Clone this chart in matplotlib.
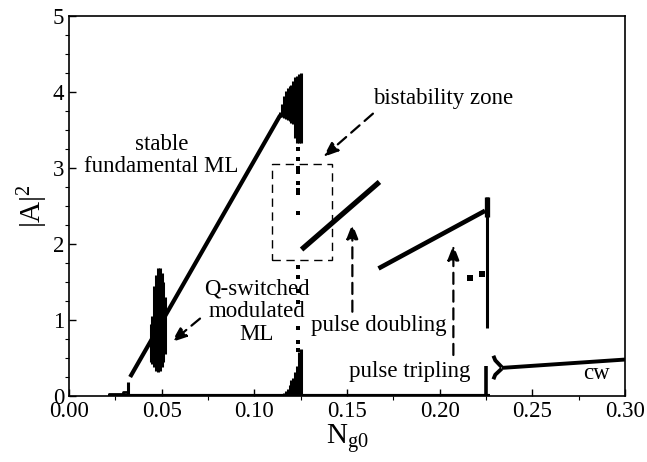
import matplotlib
matplotlib.use("Agg")
import matplotlib.pyplot as plt
from matplotlib.patches import Rectangle

plt.rcParams['font.family'] = ['Liberation Serif', 'DejaVu Serif']
plt.rcParams['mathtext.fontset'] = 'custom'
plt.rcParams['mathtext.rm'] = 'Liberation Serif'
plt.rcParams['mathtext.it'] = 'Liberation Serif:italic'

# ---- data ----
# stable fundamental mode-locking branch
ml_x = [0.033, 0.114]
ml_y = [0.25, 3.70]

# low-amplitude start near threshold
low_x = [0.021, 0.029, 0.029, 0.0318]
low_y = [0.02, 0.02, 0.05, 0.05]
spike_x = [0.0318, 0.0318]
spike_y = [0.0, 0.19]

# zero branch
zero_x = [0.021, 0.227]
zero_y = [0.0, 0.0]

# Q-switched modulated ML band (x, min, max)
qs_x = [0.0440, 0.0450, 0.0460, 0.0470, 0.0480, 0.0490, 0.0500, 0.0510, 0.0520]
qs_min = [0.45, 0.42, 0.38, 0.33, 0.32, 0.33, 0.38, 0.45, 0.55]
qs_max = [0.95, 1.05, 1.45, 1.60, 1.68, 1.68, 1.62, 1.50, 1.30]

# chaotic top band before bistability
ch_x = [0.114, 0.115, 0.116, 0.117, 0.118, 0.119, 0.120, 0.121, 0.122, 0.123, 0.124, 0.125]
ch_min = [3.68, 3.67, 3.66, 3.65, 3.63, 3.62, 3.60, 3.58, 3.40, 3.33, 3.33, 3.33]
ch_max = [3.74, 3.85, 3.95, 4.02, 4.06, 4.08, 4.10, 4.15, 4.20, 4.22, 4.24, 4.25]

# scattered points in the bistability zone
sc_x = [0.1237] * 15
sc_y = [3.25, 3.12, 3.00, 2.95, 2.81, 2.72, 2.67, 2.41, 1.70, 1.57, 1.38, 1.24, 0.89, 0.71, 0.60]

# chaotic bottom band
cb_x = [0.1160, 0.1170, 0.1180, 0.1190, 0.1200, 0.1210, 0.1220, 0.1230, 0.1240, 0.1250]
cb_max = [0.04, 0.07, 0.09, 0.14, 0.21, 0.24, 0.32, 0.40, 0.58, 0.62]

# pulse doubling / tripling branches
pd_x = [0.1255, 0.1675]
pd_y = [1.93, 2.82]
pt_x = [0.167, 0.2245]
pt_y = [1.68, 2.44]
pt_dots_x = [0.2164, 0.2227]
pt_dots_y = [1.55, 1.61]

# vertical transitions near 0.226
v1_x = [0.2257, 0.2257]
v1_y = [0.90, 2.62]
v1b_y = [2.36, 2.62]
v2_x = [0.2252, 0.2252]
v2_y = [0.0, 0.39]

# cw branch
cwu_x = [0.2290, 0.2300, 0.2335]
cwu_y = [0.53, 0.47, 0.38]
cwl_x = [0.2290, 0.2300, 0.2335]
cwl_y = [0.22, 0.28, 0.36]
cw_x = [0.2335, 0.300]
cw_y = [0.37, 0.48]

# bistability box
box = (0.1094, 1.79, 0.1418, 3.05)

xticks = [0.00, 0.05, 0.10, 0.15, 0.20, 0.25, 0.30]
xticklabels = ['0.00', '0.05', '0.10', '0.15', '0.20', '0.25', '0.30']
yticks = [0, 1, 2, 3, 4, 5]

# ---- figure ----
fig = plt.figure(figsize=(6.47, 4.62), dpi=100)
ax = fig.add_axes([0.1066, 0.1429, 0.8594, 0.8214])
k = 'black'

ax.plot(zero_x, zero_y, color=k, lw=3.0, solid_capstyle='butt')
ax.plot(low_x, low_y, color=k, lw=2.0, solid_capstyle='butt')
ax.plot(spike_x, spike_y, color=k, lw=2.2, solid_capstyle='butt')
ax.plot(ml_x, ml_y, color=k, lw=3.0, solid_capstyle='butt')
ax.vlines(qs_x, qs_min, qs_max, color=k, lw=2.2)
ax.vlines(ch_x, ch_min, ch_max, color=k, lw=2.2)
ax.scatter(sc_x, sc_y, marker='s', s=9, color=k, lw=0)
ax.vlines(cb_x, [0] * len(cb_x), cb_max, color=k, lw=2.2)
ax.plot(pd_x, pd_y, color=k, lw=3.8, solid_capstyle='butt')
ax.plot(pt_x, pt_y, color=k, lw=3.3, solid_capstyle='butt')
ax.scatter(pt_dots_x, pt_dots_y, marker='s', s=14, color=k, lw=0)
ax.plot(v1_x, v1_y, color=k, lw=2.2, solid_capstyle='butt')
ax.plot(v1_x, v1b_y, color=k, lw=3.8, solid_capstyle='butt')
ax.plot(v2_x, v2_y, color=k, lw=2.6, solid_capstyle='butt')
ax.plot(cwu_x, cwu_y, color=k, lw=2.8, solid_capstyle='butt')
ax.plot(cwl_x, cwl_y, color=k, lw=2.8, solid_capstyle='butt')
ax.plot(cw_x, cw_y, color=k, lw=2.8, solid_capstyle='butt')

ax.add_patch(Rectangle((box[0], box[1]), box[2] - box[0], box[3] - box[1],
                       fill=False, ls=(0, (6, 4)), lw=1.0, ec=k))

fs = 16.5
arrow = dict(arrowstyle='-|>,head_length=0.9,head_width=0.35', color=k, lw=1.6,
             ls=(0, (5, 3)), shrinkA=0, shrinkB=0)
ax.annotate('', xy=(0.1373, 3.15), xytext=(0.164, 3.72), arrowprops=arrow)
ax.annotate('', xy=(0.0554, 0.71), xytext=(0.0707, 1.02), arrowprops=arrow)
ax.annotate('', xy=(0.1529, 2.27), xytext=(0.1529, 1.11), arrowprops=arrow)
ax.annotate('', xy=(0.2074, 1.99), xytext=(0.2074, 0.54), arrowprops=arrow)

ax.text(0.050, 3.17, 'stable\nfundamental ML', ha='center', va='center', fontsize=fs, linespacing=1.05)
ax.text(0.1013, 1.11, 'Q-switched\nmodulated\nML', ha='center', va='center', fontsize=fs, linespacing=1.1)
ax.text(0.202, 3.92, 'bistability zone', ha='center', va='center', fontsize=fs)
ax.text(0.167, 0.93, 'pulse doubling', ha='center', va='center', fontsize=fs)
ax.text(0.184, 0.32, 'pulse tripling', ha='center', va='center', fontsize=fs)
ax.text(0.2847, 0.30, 'cw', ha='center', va='center', fontsize=fs)

ax.set_xlim(0, 0.30)
ax.set_ylim(0, 5)
ax.set_xticks(xticks)
ax.set_xticklabels(xticklabels)
ax.set_yticks(yticks)
ax.set_xticks([0.025 + 0.05 * i for i in range(6)], minor=True)
ax.set_yticks([0.25 * i for i in range(21) if i % 4 != 0], minor=True)
ax.tick_params(direction='in', labelsize=fs, top=False, right=False)
ax.tick_params(which='major', length=5, width=1)
ax.tick_params(which='minor', length=3, width=0.8)
for s in ax.spines.values():
    s.set_linewidth(1.2)

ax.set_xlabel(r'$\mathrm{N_{g0}}$', fontsize=21, labelpad=0)
ax.set_ylabel(r'$\mathrm{|A|^2}$', fontsize=21, labelpad=2)

fig.savefig('out.png', dpi=100)
